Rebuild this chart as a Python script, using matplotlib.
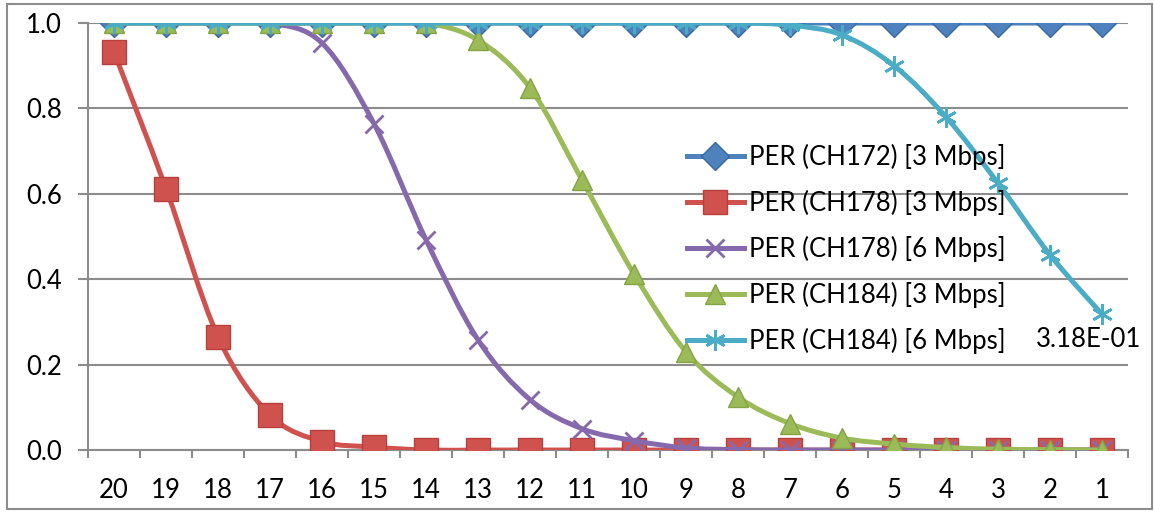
import matplotlib
matplotlib.use("Agg")
import matplotlib.pyplot as plt
import numpy as np
from matplotlib.path import Path
from matplotlib.patches import PathPatch, Rectangle
from matplotlib.lines import Line2D

plt.rcParams['font.family'] = ['Lato', 'DejaVu Sans']

# attenuation steps, plotted high to low
steps = [20, 19, 18, 17, 16, 15, 14, 13, 12, 11, 10, 9, 8, 7, 6, 5, 4, 3, 2, 1]

per_ch172_3m = [1.0] * 20
per_ch178_3m = [0.932, 0.612, 0.265, 0.082, 0.020, 0.007, 0.0, 0.0, 0.0, 0.0,
                0.0, 0.0, 0.0, 0.0, 0.0, 0.0, 0.0, 0.0, 0.0, 0.0]
per_ch178_6m = [1.0, 1.0, 1.0, 1.0, 0.953, 0.764, 0.492, 0.258, 0.118, 0.050,
                0.022, 0.005, 0.001, 0.0, 0.0, 0.0, 0.0, 0.0, 0.0, 0.0]
per_ch184_3m = [1.0, 1.0, 1.0, 1.0, 1.0, 1.0, 1.0, 0.960, 0.848, 0.632,
                0.412, 0.230, 0.124, 0.062, 0.028, 0.014, 0.006, 0.002, 0.001, 0.0]
per_ch184_6m = [1.0, 1.0, 1.0, 1.0, 1.0, 1.0, 1.0, 1.0, 1.0, 1.0,
                1.0, 1.0, 1.0, 0.995, 0.972, 0.900, 0.780, 0.625, 0.457, 0.318]

labels = ["PER (CH172) [3 Mbps]", "PER (CH178) [3 Mbps]", "PER (CH178) [6 Mbps]",
          "PER (CH184) [3 Mbps]", "PER (CH184) [6 Mbps]"]
series = [per_ch172_3m, per_ch178_3m, per_ch178_6m, per_ch184_3m, per_ch184_6m]
colors = ["#4F81BD", "#D0524E", "#8569AC", "#9BBB59", "#4BACC6"]
edges = ["#3A68A0", "#B8403C", "#8569AC", "#84A444", "#4BACC6"]
markers = ["D", "s", "x", "^", (6, 2, 0)]
msizes = [14, 17, 13, 15, 15]

FS = 18.5


def smooth_path(xs, ys):
    # bezier through the points, like a spreadsheet "smoothed line"
    pts = np.column_stack([xs, ys]).astype(float)
    n = len(pts)
    verts = [pts[0]]
    codes = [Path.MOVETO]
    for i in range(n - 1):
        p0 = pts[i - 1] if i > 0 else pts[i]
        p1 = pts[i]
        p2 = pts[i + 1]
        p3 = pts[i + 2] if i + 2 < n else pts[i + 1]
        c1 = p1 + (p2 - p0) / 6.0
        c2 = p2 - (p3 - p1) / 6.0
        verts += [c1, c2, p2]
        codes += [Path.CURVE4] * 3
    return Path(verts, codes)


fig = plt.figure(figsize=(11.54, 5.12), dpi=100)
ax = fig.add_axes([0.0763, 0.121, 0.9012, 0.834])

x = np.arange(len(steps))
handles = []
for i, (vals, lab, c, ec, m, ms) in enumerate(zip(series, labels, colors, edges, markers, msizes)):
    z = 3 + 2 * i
    ax.add_patch(PathPatch(smooth_path(x, vals), fill=False, edgecolor=c,
                           lw=3.6, zorder=z, capstyle='round', joinstyle='round'))
    mew = 2.0 if m in ("x", (6, 2, 0)) else 1.0
    ax.plot(x, vals, linestyle='none', marker=m, markersize=ms, color=c,
            markeredgecolor=ec, markeredgewidth=mew, zorder=z + 1)
    handles.append(Line2D([], [], color=c, lw=3.6, marker=m, markersize=ms,
                          markeredgecolor=ec, markeredgewidth=mew, label=lab))

# value label on the last point of the CH184 6 Mbps curve
ax.annotate("%.2E" % per_ch184_6m[-1], (x[-1], per_ch184_6m[-1]),
            xytext=(-10, -18), textcoords='offset points',
            ha='center', va='center', fontsize=FS, zorder=20)

ax.set_xlim(-0.5, len(steps) - 0.5)
ax.set_ylim(0, 1.0)
ax.set_yticks(np.arange(0, 1.01, 0.2))
ax.set_yticklabels(["%.1f" % v for v in np.arange(0, 1.01, 0.2)])
ax.set_xticks(x)
ax.set_xticklabels([str(s) for s in steps])
ax.set_xticks(np.arange(-0.5, len(steps), 1.0), minor=True)

ax.tick_params(axis='x', which='major', length=0, pad=20, labelsize=FS)
ax.tick_params(axis='x', which='minor', length=6, width=1.5, color='#8C8C8C', direction='out')
ax.tick_params(axis='y', length=7, width=1.5, color='#8C8C8C', pad=12, labelsize=FS)

ax.yaxis.grid(True, color='#8C8C8C', lw=1.5)
ax.set_axisbelow(True)
for side in ('top', 'right'):
    ax.spines[side].set_visible(False)
for side in ('left', 'bottom'):
    ax.spines[side].set_color('#8C8C8C')
    ax.spines[side].set_linewidth(1.5)
ax.spines['bottom'].set_zorder(2)
ax.patch.set_alpha(0)

fig.legend(handles=handles, loc='upper left', bbox_to_anchor=(0.586, 0.74),
           frameon=False, fontsize=FS, handlelength=2.25, handletextpad=0.2,
           labelspacing=0.78, borderaxespad=0)

fig.patches.append(Rectangle((0.006, 0.006), 0.992, 0.986, transform=fig.transFigure,
                             fill=False, edgecolor='#8C8C8C', lw=1.5))

fig.savefig("out.png", dpi=100)
